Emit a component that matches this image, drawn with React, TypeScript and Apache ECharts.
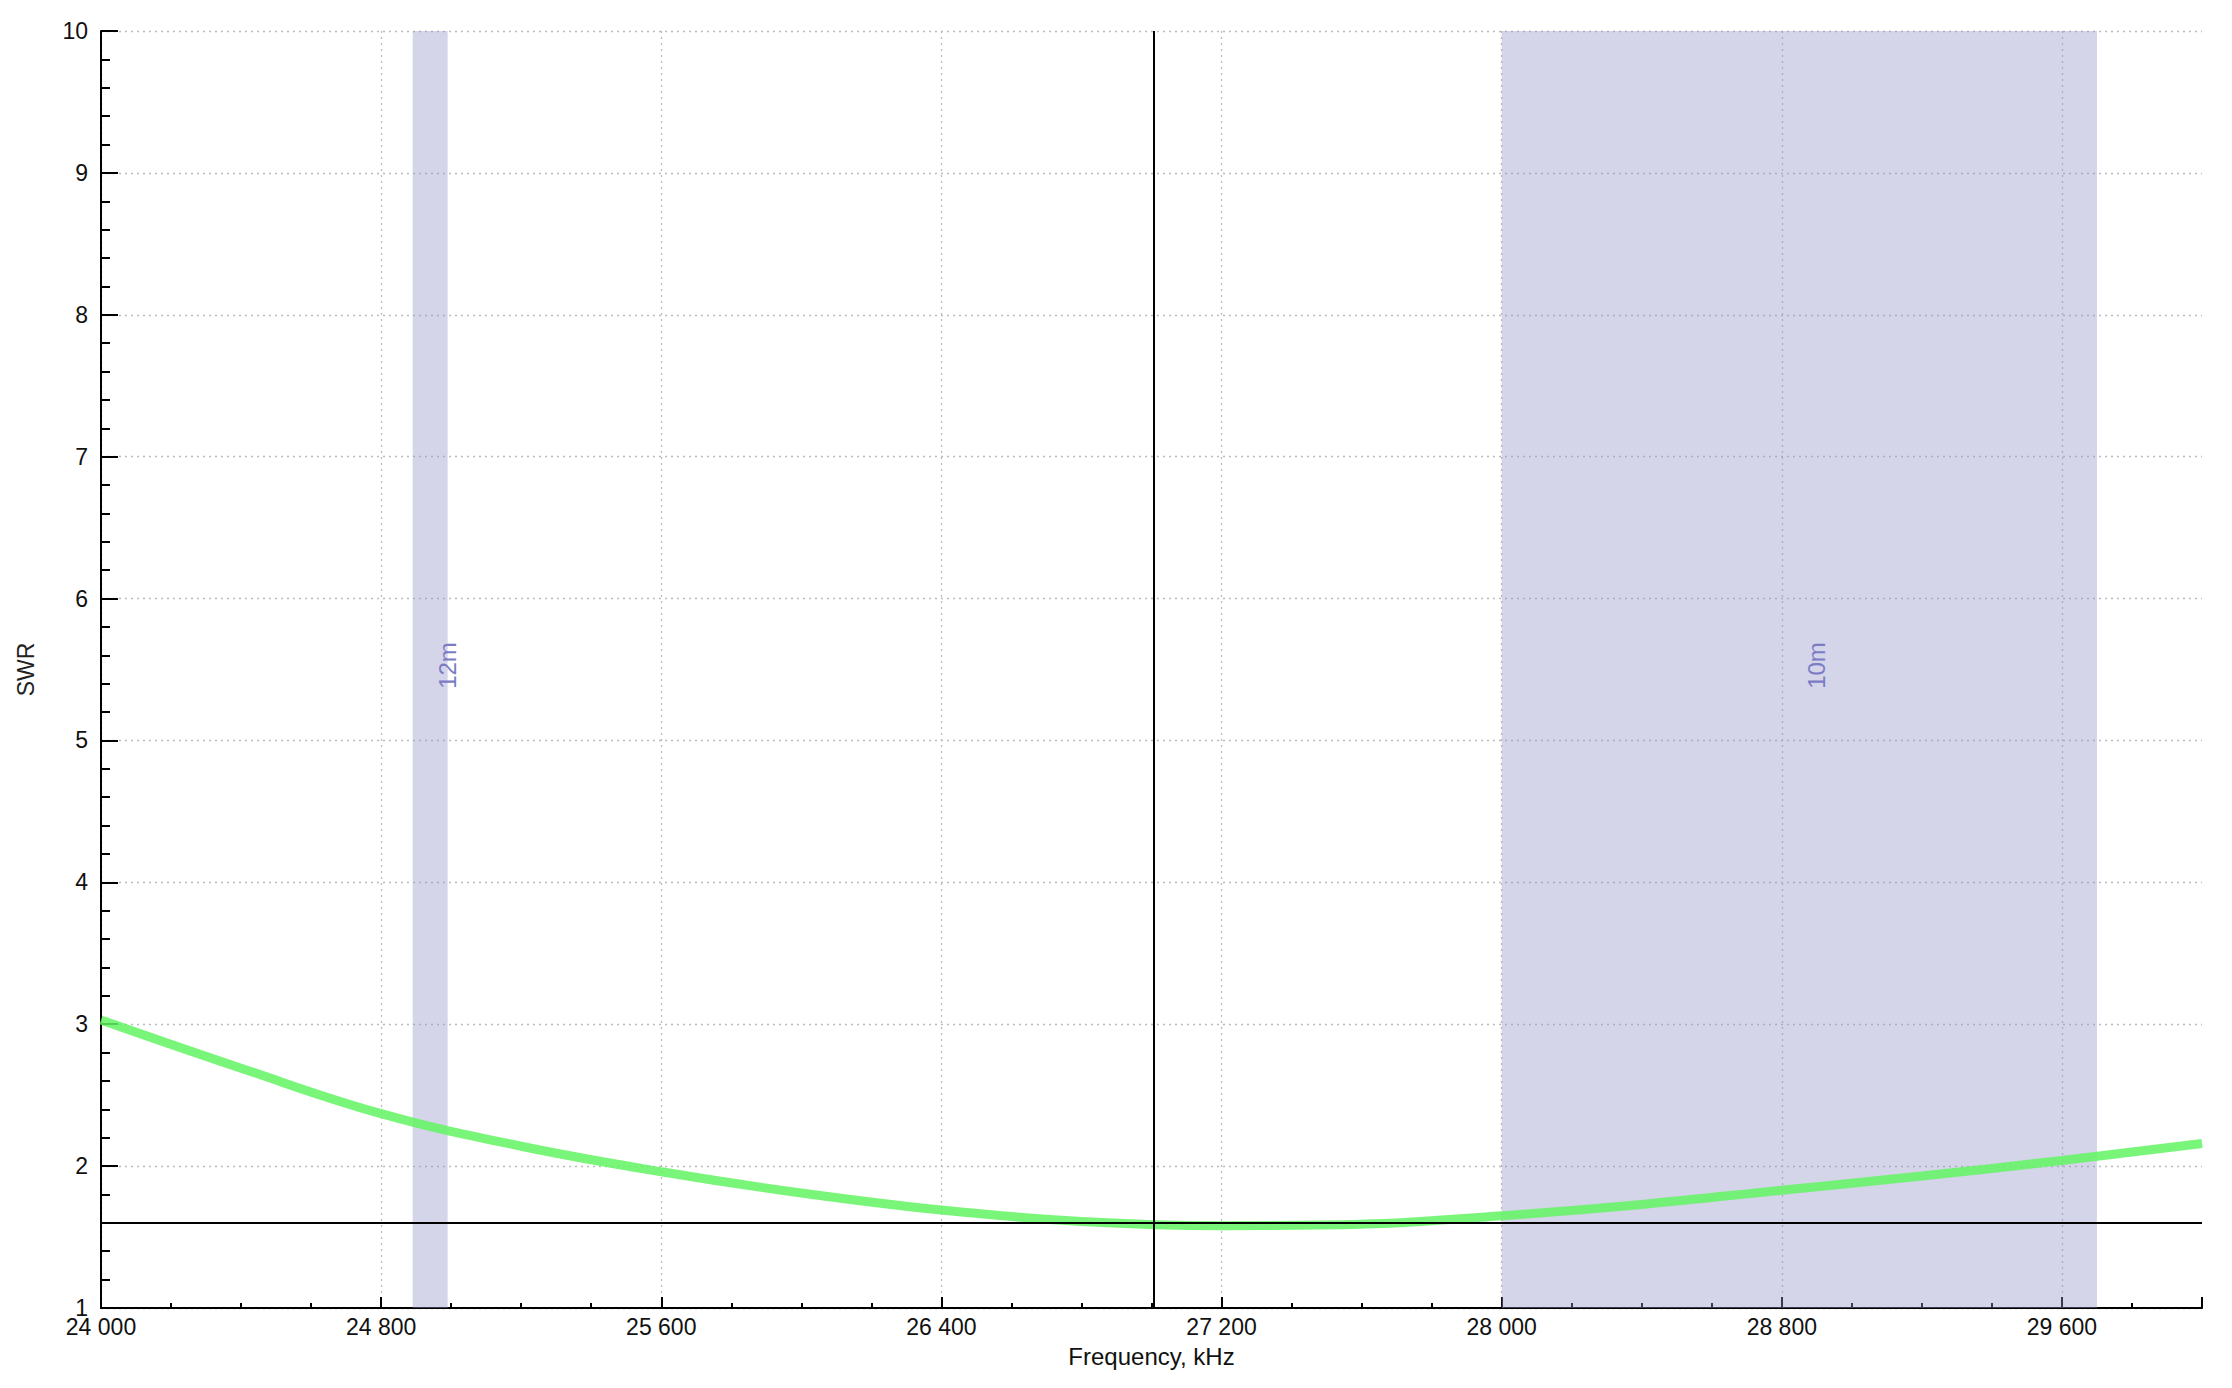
import React, { useEffect, useRef } from 'react';
import * as echarts from 'echarts';

// SWR sweep, kHz -> SWR
const freqs = [24000, 24400, 24800, 25200, 25600, 26000, 26400, 26800, 27200, 27600, 28000, 28400, 28800, 29200, 29600, 30000];
const swr = [3.03, 2.69, 2.37, 2.14, 1.96, 1.81, 1.69, 1.61, 1.58, 1.59, 1.65, 1.73, 1.83, 1.93, 2.04, 2.16];

// amateur bands shown as shaded areas
const bandNames = ['12m', '10m'];
const bandStart = [24890, 28000];
const bandEnd = [24990, 29700];

// cursor
const cursorFreq = 27005;
const cursorSwr = 1.6;

const fmtKHz = (v: number) =>
  v >= 30000 ? '' : String(v).replace(/\B(?=(\d{3})+(?!\d))/g, ' ');

// no grid line on the right edge (30 000)
const xGridColors = ['#bbb', '#bbb', '#bbb', '#bbb', '#bbb', '#bbb', '#bbb', '#bbb', 'rgba(0,0,0,0)'];

const App: React.FC = () => {
  const chartRef = useRef<HTMLDivElement>(null);

  useEffect(() => {
    if (!chartRef.current) return;
    const chart = echarts.init(chartRef.current, undefined, { renderer: 'svg' });
    const font = 'Liberation Sans, Arial, sans-serif';

    const option: echarts.EChartsOption = {
      animation: false,
      backgroundColor: '#fff',
      textStyle: { fontFamily: font },
      grid: { left: 101, right: 30, top: 31, bottom: 80 },
      xAxis: {
        type: 'value',
        min: 24000,
        max: 30000,
        interval: 800,
        name: 'Frequency, kHz',
        nameLocation: 'middle',
        nameGap: 36,
        nameTextStyle: { fontSize: 24, color: '#111', fontFamily: font },
        axisLine: { lineStyle: { color: '#000', width: 2 } },
        axisTick: { inside: true, length: 11, lineStyle: { color: '#000', width: 2 } },
        minorTick: { show: true, splitNumber: 4, length: 5, lineStyle: { color: '#000', width: 2 } },
        axisLabel: { fontSize: 23, color: '#111', margin: 7, formatter: fmtKHz },
        splitLine: {
          show: true,
          showMaxLine: false,
          lineStyle: { color: xGridColors, type: [2, 4], width: 1.3 },
        } as any,
      },
      yAxis: {
        type: 'value',
        min: 1,
        max: 10,
        interval: 1,
        name: 'SWR',
        nameLocation: 'middle',
        nameGap: 64,
        nameTextStyle: { fontSize: 23, color: '#222', fontFamily: font },
        axisLine: { show: true, lineStyle: { color: '#000', width: 2 } },
        axisTick: { show: true, inside: true, length: 17, lineStyle: { color: '#000', width: 2 } },
        minorTick: { show: true, splitNumber: 5, length: 9, lineStyle: { color: '#000', width: 2 } },
        axisLabel: { fontSize: 23, color: '#111', margin: 13 },
        splitLine: { show: true, lineStyle: { color: '#bbb', type: [2, 4], width: 1.3 } },
      },
      series: [
        {
          name: 'bands',
          type: 'line',
          data: [],
          z: 1,
          markArea: {
            silent: true,
            itemStyle: { color: 'rgba(150,150,200,0.4)' },
            label: {
              show: true,
              position: 'inside',
              rotate: 90,
              offset: [4, 17],
              fontSize: 24,
              color: '#7b7cc4',
              fontFamily: font,
            },
            data: bandNames.map((n, i) => [
              { name: n, xAxis: bandStart[i] },
              { xAxis: bandEnd[i] },
            ]) as any,
          },
        },
        {
          name: 'SWR',
          type: 'line',
          data: freqs.map((f, i) => [f, swr[i]]),
          smooth: 0.4,
          showSymbol: false,
          z: 3,
          lineStyle: { color: 'rgb(98,245,98)', width: 9, opacity: 0.85 },
        },
        {
          name: 'cursor',
          type: 'line',
          data: [],
          z: 4,
          markLine: {
            silent: true,
            symbol: 'none',
            label: { show: false },
            lineStyle: { color: '#000', width: 2, type: 'solid' },
            data: [{ xAxis: cursorFreq }, { yAxis: cursorSwr }],
          },
        },
      ],
    };

    chart.setOption(option);
    return () => chart.dispose();
  }, []);

  return (
    <div
      ref={chartRef}
      style={{ position: 'fixed', left: 0, top: 0, width: 2232, height: 1388 }}
    ></div>
  );
};

export default App;
